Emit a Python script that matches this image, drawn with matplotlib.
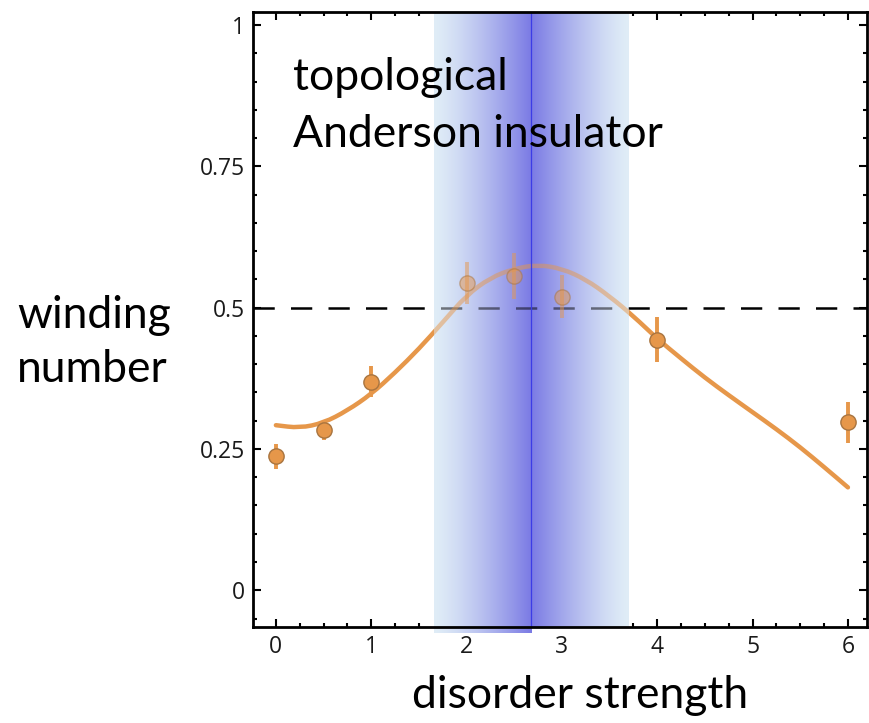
import numpy as np
import matplotlib
matplotlib.use('Agg')
import matplotlib.pyplot as plt
from matplotlib.ticker import MultipleLocator, FixedLocator
from matplotlib.path import Path
from matplotlib.patches import PathPatch, Rectangle

# measured points with error bars
disorder = [0, 0.5, 1, 2, 2.5, 3, 4, 6]
winding = [0.237, 0.284, 0.369, 0.543, 0.556, 0.519, 0.443, 0.297]
winding_err = [0.022, 0.018, 0.027, 0.037, 0.040, 0.038, 0.040, 0.036]

curve_x = [0, 0.25, 0.5, 0.75, 1.0, 1.25, 1.5, 1.75, 2.0, 2.25, 2.5, 2.75, 3.0,
           3.25, 3.5, 3.75, 4.0, 4.25, 4.5, 4.75, 5.0, 5.25, 5.5, 5.75, 6.0]
curve_y = [0.292, 0.287, 0.296, 0.318, 0.347, 0.385, 0.427, 0.474, 0.522, 0.553,
           0.569, 0.576, 0.569, 0.550, 0.520, 0.485, 0.445, 0.410, 0.376, 0.345,
           0.315, 0.285, 0.253, 0.218, 0.182]

# topological Anderson insulator region
band_left = 1.66
band_center = 2.68
band_right = 3.70

xticks = [0, 1, 2, 3, 4, 5, 6]
yticks = [0, 0.25, 0.5, 0.75, 1]
ytick_labels = ['0', '0.25', '0.5', '0.75', '1']

W, H = 869, 723
fig = plt.figure(figsize=(W / 100, H / 100), dpi=100)
ax = fig.add_axes([253 / W, 1 - 627 / H, (867 - 253) / W, (627 - 12) / H])
ax.set_xlim(-0.24, 6.2)
ax.set_ylim(-0.065, 1.023)

orange = '#e6974a'


def smooth_path(xs, ys):
    # quadratic bezier through midpoints, control points are the read values
    pts = list(zip(xs, ys))
    verts = [pts[0], ((pts[0][0] + pts[1][0]) / 2, (pts[0][1] + pts[1][1]) / 2)]
    codes = [Path.MOVETO, Path.LINETO]
    for i in range(1, len(pts) - 1):
        mid = ((pts[i][0] + pts[i + 1][0]) / 2, (pts[i][1] + pts[i + 1][1]) / 2)
        verts += [pts[i], mid]
        codes += [Path.CURVE3, Path.CURVE3]
    verts.append(pts[-1])
    codes.append(Path.LINETO)
    return Path(verts, codes)


def draw_data(alpha, z, clip=None):
    arts = []
    pp = PathPatch(smooth_path(curve_x, curve_y), fill=False, ec=orange, lw=3.2,
                   alpha=alpha, zorder=z, capstyle='round')
    ax.add_patch(pp)
    arts.append(pp)
    eb = ax.errorbar(disorder, winding, yerr=winding_err, fmt='o', color=orange, ms=11,
                     mfc=orange, mec='#a8743f', mew=1.0, elinewidth=2.8, capsize=0,
                     alpha=alpha, zorder=z + 0.1)
    arts += [eb.lines[0]] + list(eb.lines[2])
    arts.append(ax.axhline(0.5, color='black', lw=1.8, dashes=(8.5, 6.5),
                           alpha=alpha, zorder=z - 0.1))
    if clip is not None:
        for a in arts:
            a.set_clip_path(clip)


# gradient shading, darkest at the centre line
def band_image(x0, x1, n=200):
    xs = np.linspace(x0, x1, n)
    d = np.where(xs < band_center, (band_center - xs) / (band_center - band_left),
                 (xs - band_center) / (band_right - band_center))
    d = np.clip(d, 0, 1)
    w = (1 - d) ** 1.3
    edge = np.array([224, 237, 247]) / 255
    center = np.array([122, 122, 228]) / 255
    rgb = edge[None, :] * (1 - w[:, None]) + center[None, :] * w[:, None]
    return rgb[None, :, :]


draw_data(1.0, 3)
ax.imshow(band_image(band_left, band_center), extent=[band_left, band_center, -0.075, 1.023],
          aspect='auto', interpolation='bilinear', zorder=5, clip_on=False)
ax.imshow(band_image(band_center, band_right), extent=[band_center, band_right, -0.065, 1.023],
          aspect='auto', interpolation='bilinear', zorder=5)
band_rect = Rectangle((band_left, -0.065), band_right - band_left, 1.1, transform=ax.transData)
draw_data(0.5, 6, clip=band_rect)
ax.axvline(band_center, color='#3c3ce6', lw=0.9, zorder=7)
ax.set_xlim(-0.24, 6.2)
ax.set_ylim(-0.065, 1.023)

ax.xaxis.set_major_locator(FixedLocator(xticks))
ax.xaxis.set_minor_locator(MultipleLocator(0.25))
ax.yaxis.set_major_locator(FixedLocator(yticks))
ax.yaxis.set_minor_locator(MultipleLocator(0.05))
ax.set_yticklabels(ytick_labels)

for s in ax.spines.values():
    s.set_linewidth(2.0)
    s.set_zorder(8)
ax.tick_params(which='both', direction='in', top=True, right=True, width=1.5)
ax.tick_params(which='major', length=6, labelsize=16.5, pad=6)
ax.tick_params(which='minor', length=3)
for lab in ax.get_xticklabels() + ax.get_yticklabels():
    lab.set_family('Open Sans')
    lab.set_color('#1a1a1a')

big = dict(family='Lato', fontsize=32, color='black')
fig.text(293 / W, 1 - 90 / H, 'topological', va='baseline', ha='left', zorder=10, **big)
fig.text(293 / W, 1 - 147 / H, 'Anderson insulator', va='baseline', ha='left', zorder=10, **big)
fig.text(17 / W, 1 - 328 / H, 'winding', va='baseline', ha='left', **big)
fig.text(17 / W, 1 - 382 / H, 'number', va='baseline', ha='left', **big)
fig.text(580 / W, 1 - 708 / H, 'disorder strength', va='baseline', ha='center', **big)

fig.savefig('out.png', dpi=100)
